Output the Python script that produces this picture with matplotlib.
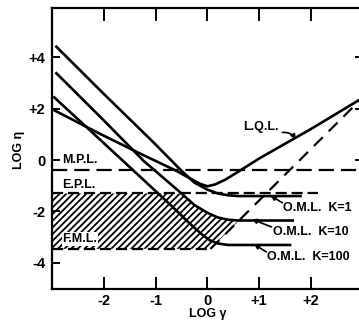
import numpy as np
import matplotlib
matplotlib.use("Agg")
import matplotlib.pyplot as plt

# limit lines (log eta)
mpl_level = -0.4
epl_level = -1.3
fml_level = -3.45
epl_end = 2.13
fml_end = 0.06

# L.Q.L. curve
lql_x = [-2.95, -2.06, -1.29, -0.6, -0.35, -0.15, 0.0, 0.15, 0.35, 0.6, 1.02, 2.0, 2.95]
lql_y = [1.92, 1.0, 0.24, -0.42, -0.7, -0.92, -1.02, -0.95, -0.76, -0.45, 0.08, 1.2, 2.35]

# O.M.L. curves
k1_x = [-2.92, -2.0, -1.04, -0.5, -0.25, 0.0, 0.2, 0.4, 0.6, 1.0, 1.8]
k1_y = [4.4, 2.56, 0.68, -0.42, -0.88, -1.15, -1.3, -1.37, -1.4, -1.4, -1.4]
k10_x = [-2.92, -2.0, -1.23, -0.5, -0.25, 0.0, 0.2, 0.4, 0.6, 1.0, 1.65]
k10_y = [3.37, 1.53, -0.04, -1.3, -1.75, -2.05, -2.23, -2.32, -2.35, -2.35, -2.35]
k100_x = [-2.96, -2.0, -1.44, -0.71, -0.35, -0.1, 0.05, 0.2, 0.4, 1.0, 1.6]
k100_y = [2.43, 0.65, -0.39, -1.75, -2.45, -2.9, -3.12, -3.24, -3.3, -3.3, -3.3]

# dashed diagonal
diag_x = [0.06, 2.95]
diag_y = [-3.45, 2.32]

x_ticks = [-2, -1, 0, 1, 2]
x_labels = ["-2", "-1", "0", "+1", "+2"]
y_ticks = [4, 2, 0, -2, -4]
y_labels = ["+4", "+2", "0", "-2", "-4"]

plt.rcParams["font.family"] = ["Liberation Sans", "DejaVu Sans"]
plt.rcParams["font.weight"] = "bold"
plt.rcParams["hatch.linewidth"] = 1.3
plt.rcParams["lines.scale_dashes"] = False

fig = plt.figure(figsize=(3.59, 3.21), dpi=100)
ax = fig.add_axes([0.1455, 0.1005, 0.8643, 0.8743])
ax.set_xlim(-3, 3)
ax.set_ylim(-5, 5.9)

lw = 1.9
ax.plot(lql_x, lql_y, color="black", lw=lw, solid_joinstyle="round")
ax.plot(k1_x, k1_y, color="black", lw=lw, solid_joinstyle="round")
ax.plot(k10_x, k10_y, color="black", lw=lw, solid_joinstyle="round")
ax.plot(k100_x, k100_y, color="black", lw=lw, solid_joinstyle="round")

ax.plot([-3, 3], [mpl_level, mpl_level], color="black", lw=1.6, dashes=(11, 5))
ax.plot([-3, epl_end], [epl_level, epl_level], color="black", lw=1.6, dashes=(8, 3.5))
ax.plot([-3, fml_end], [fml_level, fml_level], color="black", lw=1.6, dashes=(8, 3.5))
ax.plot(diag_x, diag_y, color="black", lw=1.6, dashes=(9, 6))

# hatched region between E.P.L. and F.M.L.
xg = np.linspace(-3, 0.7, 500)
upper = np.minimum(epl_level, np.interp(xg, k10_x, k10_y))
lower = np.maximum(fml_level, np.interp(xg, diag_x, diag_y))
ax.fill_between(xg, lower, upper, where=upper > lower, hatch="/////",
                facecolor="none", edgecolor="black", linewidth=0)

fs = 9
ax.text(-2.81, -0.25, "M.P.L.", fontsize=fs, ha="left", va="bottom")
ax.text(-2.8, -0.97, "E.P.L.", fontsize=fs, ha="left", va="center")
ax.text(-2.8, -3.07, "F.M.L.", fontsize=fs, ha="left", va="center",
        bbox=dict(facecolor="white", edgecolor="none", pad=0.5))
ax.text(1.03, 1.28, "L.Q.L.", fontsize=fs, ha="center", va="center")

arrow = dict(arrowstyle="-|>", color="black", lw=1.2, mutation_scale=7,
             connectionstyle="arc3,rad=-0.3", shrinkA=0, shrinkB=0)
ax.annotate("", xy=(1.71, 0.8), xytext=(1.45, 1.07), arrowprops=arrow)

oml = [("O.M.L.  K=1", 1.47, -1.86, (1.22, -1.38)),
       ("O.M.L.  K=10", 1.26, -2.8, (0.86, -2.3)),
       ("O.M.L.  K=100", 1.16, -3.77, (0.9, -3.27))]
for txt, tx, ty, tip in oml:
    ax.text(tx, ty, txt, fontsize=fs, ha="left", va="center")
    ax.annotate("", xy=tip, xytext=(tx - 0.02, ty + 0.2),
                arrowprops=dict(arrowstyle="-|>", color="black", lw=1.2,
                                mutation_scale=7, shrinkA=0, shrinkB=0))

ax.set_xticks(x_ticks)
ax.set_xticklabels(x_labels)
ax.set_yticks(y_ticks)
ax.set_yticklabels(y_labels)
ax.tick_params(axis="x", direction="in", length=9, width=1.4, top=True,
               labelsize=10.5, pad=4)
ax.tick_params(axis="y", direction="in", length=6, width=1.4, right=True,
               labelsize=10.5, pad=5)
for t, v in zip(ax.yaxis.get_major_ticks(), y_ticks):
    t.tick2line.set_visible(v >= 0)

for s in ["left", "top", "bottom"]:
    ax.spines[s].set_linewidth(1.6)
ax.spines["right"].set_visible(False)

fig.text(208 / 359, 1 - 314 / 321, "LOG γ", fontsize=9, ha="center", va="center")
fig.text(19 / 359, 1 - 150 / 321, "LOG η", fontsize=9, ha="center", va="center",
         rotation=90)

fig.savefig("out.png", dpi=100)
